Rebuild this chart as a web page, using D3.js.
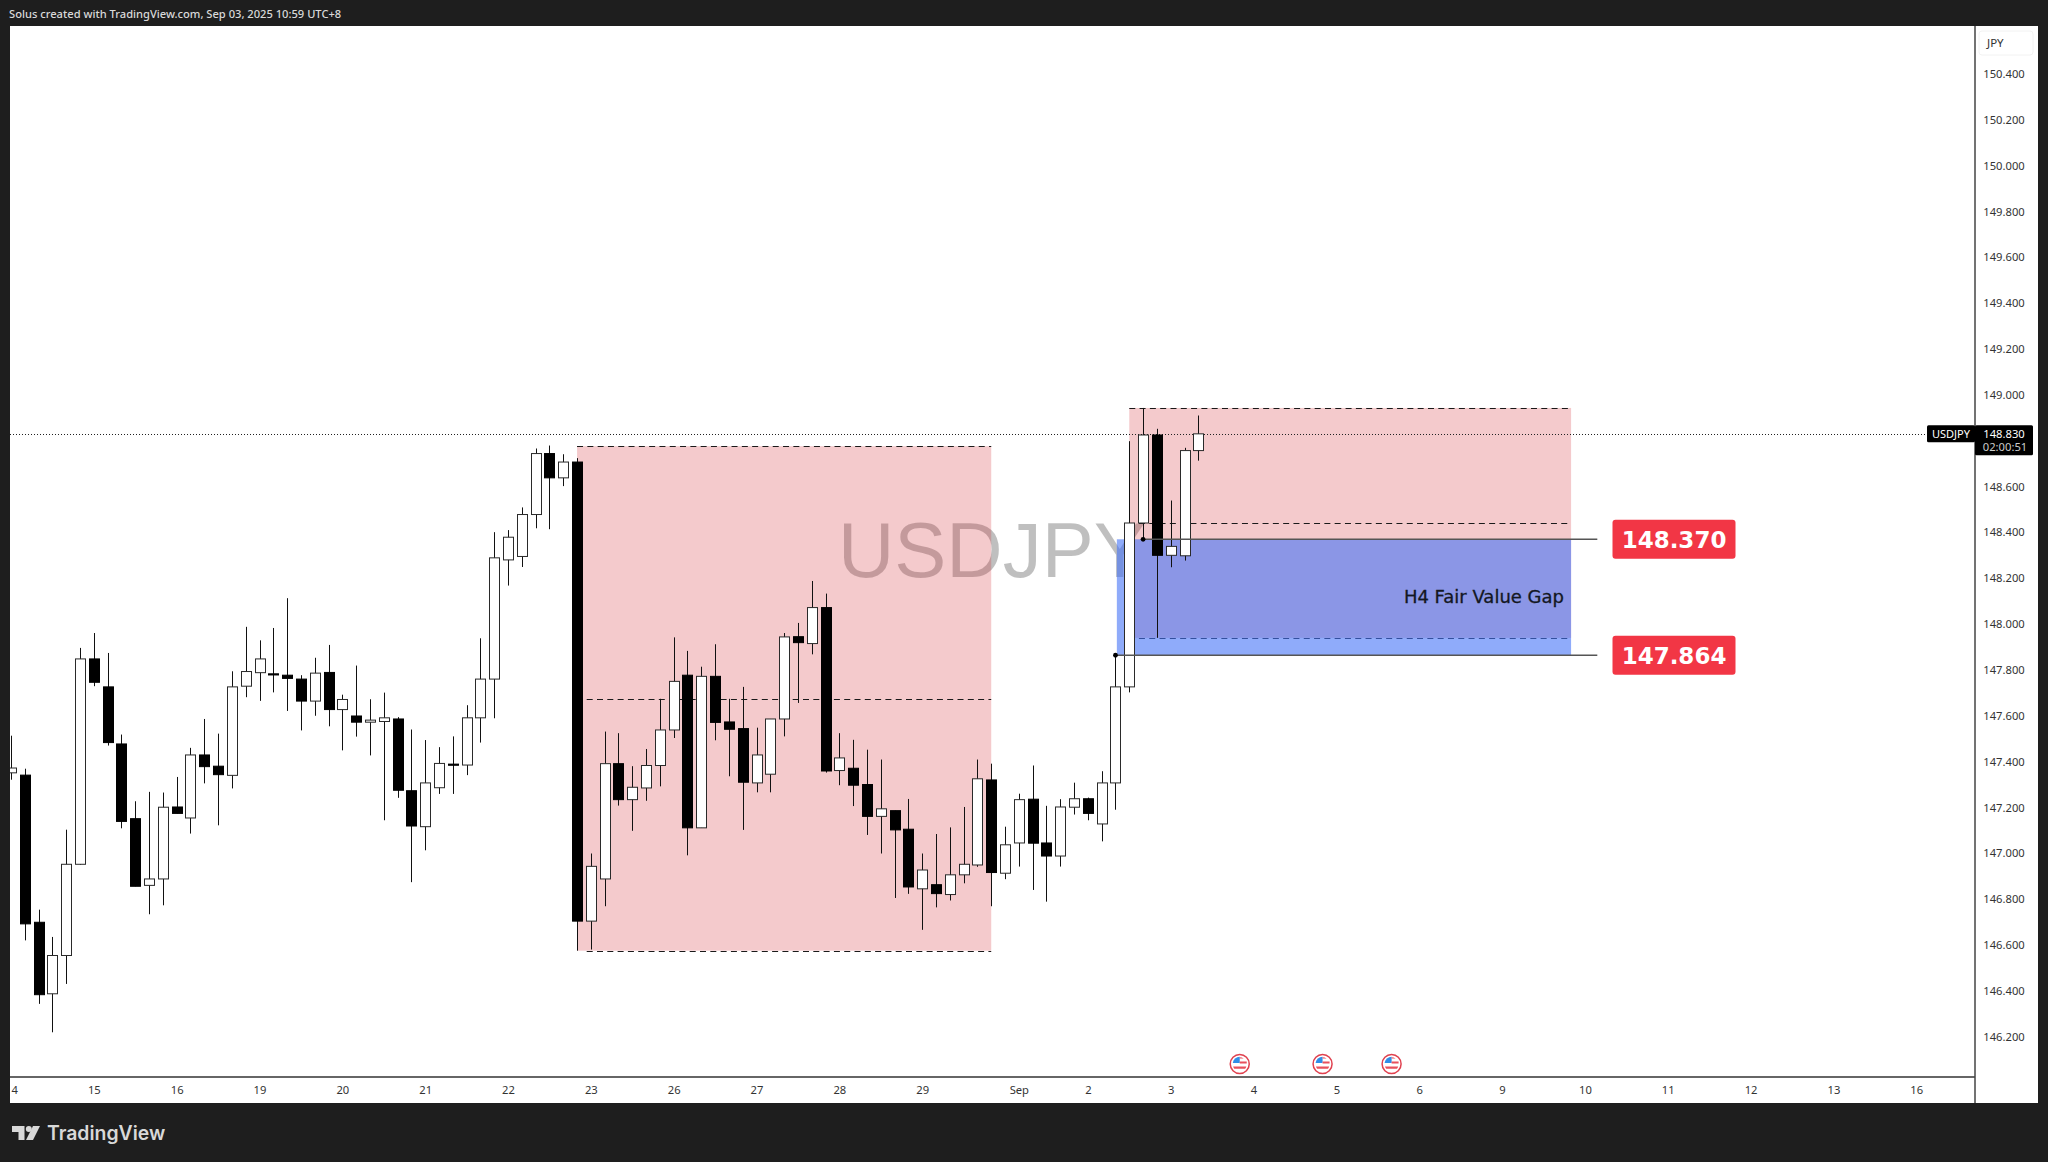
<!DOCTYPE html>
<html>
<head>
<meta charset="utf-8">
<title>USDJPY</title>
<script src="https://cdn.jsdelivr.net/npm/d3@7"></script>
<style>
  html, body { margin: 0; padding: 0; background: #1e1e1e; overflow: hidden; }
  svg { display: block; }
  text { font-family: "Noto Sans", sans-serif; }
</style>
</head>
<body>
<svg id="chart" width="2048" height="1162"></svg>
<script>
// H4 candles
const opens = [147.351,147.341,146.699,146.387,146.554,146.952,147.848,147.726,147.477,147.151,146.860,146.888,147.202,147.154,147.429,147.380,147.340,147.729,147.788,147.783,
  147.777,147.760,147.664,147.789,147.627,147.599,147.572,147.575,147.586,147.273,147.116,147.286,147.389,147.385,147.591,147.760,148.280,148.295,148.478,148.744,
  148.638,148.707,146.704,146.888,147.391,147.234,147.285,147.383,147.538,147.777,147.111,147.772,147.573,147.544,147.307,147.345,147.586,147.945,147.915,148.072,
  147.361,147.371,147.300,147.161,147.186,147.105,146.845,146.863,146.820,146.906,146.949,147.320,146.913,147.045,147.236,147.045,146.988,147.201,147.238,147.128,
  147.307,147.726,148.441,148.825,148.300,148.298,148.757];
const highs = [147.513,147.369,146.754,146.635,147.103,147.896,147.961,147.874,147.518,147.227,147.268,147.265,147.333,147.460,147.586,147.522,147.794,147.988,147.929,147.983,
  148.113,147.777,147.853,147.909,147.692,147.819,147.672,147.701,147.594,147.540,147.494,147.463,147.510,147.646,147.938,148.401,148.410,148.509,148.766,148.779,
  148.741,148.724,146.999,147.531,147.524,147.380,147.455,147.674,147.942,147.883,147.814,147.912,147.674,147.726,147.548,147.586,147.961,148.005,148.188,148.133,
  147.524,147.495,147.452,147.409,147.186,147.237,146.999,147.084,147.113,147.202,147.409,147.391,147.116,147.260,147.383,147.207,147.236,147.308,147.243,147.358,
  147.867,148.798,148.943,148.852,148.539,148.769,148.910];
const lows = [147.321,146.620,146.343,146.219,146.430,146.950,147.729,147.470,147.109,146.856,146.734,146.773,147.174,147.086,147.305,147.122,147.283,147.681,147.665,147.702,
  147.621,147.536,147.600,147.554,147.449,147.509,147.427,147.144,147.242,146.874,147.013,147.259,147.259,147.341,147.483,147.589,148.168,148.249,148.418,148.414,
  148.602,146.575,146.580,146.769,147.208,147.098,147.229,147.292,147.503,146.991,147.111,147.493,147.336,147.102,147.266,147.266,147.510,147.656,147.868,147.352,
  147.297,147.206,147.080,146.999,146.805,146.823,146.666,146.764,146.794,146.869,146.941,146.769,146.887,146.942,146.840,146.789,146.942,147.169,147.144,147.052,
  147.190,147.702,148.373,147.940,148.248,148.277,148.713];
const closes = [147.372,146.692,146.383,146.554,146.952,147.848,147.746,147.483,147.139,146.856,146.888,147.201,147.174,147.429,147.378,147.343,147.726,147.793,147.848,147.778,
  147.763,147.664,147.786,147.627,147.671,147.572,147.581,147.591,147.275,147.119,147.307,147.392,147.384,147.591,147.760,148.289,148.379,148.478,148.744,148.638,
  148.707,146.704,146.943,147.391,147.234,147.288,147.383,147.538,147.750,147.111,147.772,147.571,147.541,147.310,147.429,147.586,147.944,147.919,148.072,147.359,
  147.416,147.297,147.161,147.194,147.102,146.853,146.927,146.824,146.906,146.952,147.325,146.916,147.037,147.234,147.044,146.988,147.202,147.238,147.174,147.307,
  147.726,148.441,148.825,148.300,148.339,148.757,148.830];

// axis labels
const priceTicks = [150.4,150.2,150,149.8,149.6,149.4,149.2,149,148.6,148.4,148.2,148,147.8,147.6,147.4,147.2,147,146.8,146.6,146.4,146.2];
const dayTicks = [0,6,12,18,24,30,36,42,48,54,60,66,73,78,84,90,96,102,108,114,120,126,132,138];
const dayLabels = ["14","15","16","19","20","21","22","23","26","27","28","29","Sep","2","3","4","5","6","9","10","11","12","13","16"];
const eventBars = [89,95,100];

// drawings on the chart, in bars and prices
const lastPrice = 148.830;
const fvgTop = 148.370;
const fvgBottom = 147.864;
const zoneAugStart = 41, zoneAugEnd = 71;
const zoneAugLevels = [148.776,147.675,146.575];
const zoneSepStart = 81, zoneSepEnd = 113;
const zoneSepLevels = [148.943,148.441,147.940];
const fvgStart = 80.1, lineEnd = 114.9;

// layout of the TradingView screenshot
const plot = { left: 10, right: 1975, top: 26, bottom: 1077, frameRight: 2038, frameBottom: 1103 };

const svg = d3.select("#chart");

const x = d3.scaleLinear().domain([0, 138]).range([11, 11 + 138 * 13.806]);
const y = d3.scaleLinear().domain([150.4, 146.2]).range([74, 74 + 4.2 * 229.2]);

// frame
svg.append("rect").attr("width", 2048).attr("height", 1162).attr("fill", "#1e1e1e");
svg.append("rect")
  .attr("x", plot.left).attr("y", plot.top)
  .attr("width", plot.frameRight - plot.left).attr("height", plot.frameBottom - plot.top)
  .attr("fill", "#fff");

svg.append("defs").append("clipPath").attr("id", "plotClip")
  .append("rect")
  .attr("x", plot.left).attr("y", plot.top)
  .attr("width", plot.right - plot.left).attr("height", plot.frameBottom - plot.top);

const pane = svg.append("g").attr("clip-path", "url(#plotClip)");

// watermark sits under everything else
pane.append("text")
  .attr("x", 838).attr("y", 577)
  .style("font-family", '"Liberation Sans", sans-serif')
  .style("font-size", "78px")
  .attr("fill", "#000").attr("fill-opacity", 0.25)
  .text("USDJPY");

const pink = "#d32b33";

function zone(startBar, endBar, levels) {
  pane.append("rect")
    .attr("x", x(startBar)).attr("width", x(endBar) - x(startBar))
    .attr("y", y(levels[0])).attr("height", y(levels[2]) - y(levels[0]))
    .attr("fill", pink).attr("fill-opacity", 0.25);

  pane.selectAll(null)
    .data(levels)
    .join("line")
    .attr("x1", (d, i) => x(i === 0 ? startBar : startBar + 0.7))
    .attr("x2", x(endBar))
    .attr("y1", (d) => Math.round(y(d)) + 0.5)
    .attr("y2", (d) => Math.round(y(d)) + 0.5)
    .attr("stroke", "#1a1a1a")
    .attr("stroke-width", 1)
    .attr("stroke-dasharray", "6 4.3");
}

zone(zoneAugStart, zoneAugEnd, zoneAugLevels);
zone(zoneSepStart, zoneSepEnd, zoneSepLevels);

// FVG box goes over the pink zone
pane.append("rect")
  .attr("x", x(fvgStart)).attr("width", x(zoneSepEnd) - x(fvgStart))
  .attr("y", y(fvgTop)).attr("height", y(fvgBottom) - y(fvgTop))
  .attr("fill", "#4473f7").attr("fill-opacity", 0.6);

// last price line
pane.append("line")
  .attr("x1", plot.left).attr("x2", plot.right)
  .attr("y1", Math.round(y(lastPrice)) + 0.5).attr("y2", Math.round(y(lastPrice)) + 0.5)
  .attr("stroke", "#222").attr("stroke-width", 1).attr("stroke-dasharray", "1 2");

// candles
const candles = d3.range(opens.length).map((i) => ({
  i: i, open: opens[i], high: highs[i], low: lows[i], close: closes[i]
}));

const candle = pane.selectAll("g.candle")
  .data(candles)
  .join("g")
  .attr("class", "candle")
  .attr("transform", (d) => `translate(${Math.round(x(d.i))},0)`);

candle.append("line")
  .attr("x1", 0.5).attr("x2", 0.5)
  .attr("y1", (d) => y(d.high)).attr("y2", (d) => y(d.low))
  .attr("stroke", "#111").attr("stroke-width", 1);

candle.append("rect")
  .attr("x", -4.5).attr("width", 10)
  .attr("y", (d) => y(Math.max(d.open, d.close)))
  .attr("height", (d) => Math.max(1, Math.abs(y(d.open) - y(d.close))))
  .attr("fill", (d) => (d.close >= d.open ? "#fff" : "#000"))
  .attr("stroke", (d) => (d.close >= d.open ? "#2a2a2a" : "#000"))
  .attr("stroke-width", 1);

// FVG edge lines with their anchors
const fvgLines = [
  { price: fvgTop, from: 82 },
  { price: fvgBottom, from: 80 },
];

svg.selectAll("line.fvg")
  .data(fvgLines)
  .join("line")
  .attr("class", "fvg")
  .attr("x1", (d) => x(d.from)).attr("x2", x(lineEnd))
  .attr("y1", (d) => y(d.price)).attr("y2", (d) => y(d.price))
  .attr("stroke", "#555").attr("stroke-width", 1.5);

svg.selectAll("circle.anchor")
  .data(fvgLines)
  .join("circle")
  .attr("class", "anchor")
  .attr("cx", (d) => x(d.from)).attr("cy", (d) => y(d.price))
  .attr("r", 2.4)
  .attr("fill", "#000");

svg.append("text")
  .attr("x", 1564).attr("y", 597)
  .attr("text-anchor", "end").attr("dy", "0.35em")
  .style("font-family", '"DejaVu Sans", sans-serif')
  .style("font-size", "18px")
  .attr("fill", "#131722")
  .attr("stroke", "#131722").attr("stroke-width", 0.3)
  .text("H4 Fair Value Gap");

// red price labels
const priceBadge = svg.selectAll("g.badge")
  .data([fvgTop, fvgBottom])
  .join("g")
  .attr("class", "badge")
  .attr("transform", (d) => `translate(1674,${y(d)})`);

priceBadge.append("rect")
  .attr("x", -61.5).attr("y", -19.5)
  .attr("width", 123).attr("height", 39)
  .attr("rx", 3)
  .attr("fill", "#f23645");

priceBadge.append("text")
  .attr("text-anchor", "middle").attr("dy", "0.37em")
  .style("font-family", '"DejaVu Sans", sans-serif')
  .style("font-size", "23px").style("font-weight", 700)
  .attr("fill", "#fff")
  .text((d) => d3.format(".3f")(d));

// price axis
const yAxis = d3.axisRight(y)
  .tickValues(priceTicks)
  .tickSize(0)
  .tickPadding(0)
  .tickFormat(d3.format(".3f"));

svg.append("g")
  .attr("transform", "translate(2004,0)")
  .call(yAxis)
  .call((g) => g.select(".domain").remove())
  .selectAll("text")
  .attr("text-anchor", "middle")
  .attr("fill", "#333")
  .style("font-family", '"Noto Sans", sans-serif')
  .style("font-size", "11.2px");

// time axis, the first label gets cut off by the left edge
const xAxis = d3.axisBottom(x)
  .tickValues(dayTicks)
  .tickSize(0)
  .tickPadding(0)
  .tickFormat((d, i) => dayLabels[i]);

svg.append("g")
  .attr("clip-path", "url(#plotClip)")
  .append("g")
  .attr("transform", "translate(0,1086)")
  .call(xAxis)
  .call((g) => g.select(".domain").remove())
  .selectAll("text")
  .attr("fill", "#333")
  .style("font-family", '"Noto Sans", sans-serif')
  .style("font-size", "11.2px");

// axis borders
svg.append("line")
  .attr("x1", plot.left).attr("x2", plot.right)
  .attr("y1", plot.bottom).attr("y2", plot.bottom)
  .attr("stroke", "#333").attr("stroke-width", 1.5);
svg.append("line")
  .attr("x1", plot.right).attr("x2", plot.right)
  .attr("y1", plot.top).attr("y2", plot.frameBottom)
  .attr("stroke", "#444").attr("stroke-width", 1.5);

// currency button
svg.append("rect")
  .attr("x", 1979).attr("y", 31).attr("width", 54).attr("height", 24).attr("rx", 3)
  .attr("fill", "#fff").attr("stroke", "#f2f2f2");
svg.append("text")
  .attr("x", 1987).attr("y", 47)
  .attr("fill", "#333")
  .style("font-size", "11.5px")
  .text("JPY");

// symbol and last price tags
const tagY = y(lastPrice);
svg.append("rect")
  .attr("x", 1927).attr("y", tagY - 8.5).attr("width", 48).attr("height", 17)
  .attr("rx", 1.5).attr("fill", "#000");
svg.append("rect")
  .attr("x", 1975).attr("y", tagY - 8.5).attr("width", 58).attr("height", 30)
  .attr("rx", 1.5).attr("fill", "#000");
svg.append("text")
  .attr("x", 1951).attr("y", tagY).attr("dy", "0.36em")
  .attr("text-anchor", "middle").attr("fill", "#fff")
  .style("font-size", "11px")
  .text("USDJPY");
svg.append("text")
  .attr("x", 2004).attr("y", tagY).attr("dy", "0.36em")
  .attr("text-anchor", "middle").attr("fill", "#fff")
  .style("font-size", "11.2px")
  .text(d3.format(".3f")(lastPrice));
svg.append("text")
  .attr("x", 2005).attr("y", tagY + 13.5).attr("dy", "0.36em")
  .attr("text-anchor", "middle").attr("fill", "#ccc")
  .style("font-size", "11.2px")
  .text("02:00:51");

// US event markers
const flag = svg.selectAll("g.event")
  .data(eventBars)
  .join("g")
  .attr("class", "event")
  .attr("transform", (d) => `translate(${x(d)},1064)`);

flag.append("circle").attr("r", 9.5).attr("fill", "#fff").attr("stroke", "#e0414f").attr("stroke-width", 1.5);
flag.append("path").attr("d", "M-7,-1 A7.2,7.2 0 0 1 0,-7.2 V-1 Z").attr("fill", "#2f8ee8");
flag.append("path").attr("d", "M0,-6.8 A7,7 0 0 1 4,-5.5 H0 Z M0,-2.6 H7 V-0.4 H0 Z M-6.6,2.6 H6.6 A7,7 0 0 1 5.4,4.8 H-5.4 A7,7 0 0 1 -6.6,2.6 Z").attr("fill", "#e8505c");

// header and logo
svg.append("text")
  .attr("x", 9).attr("y", 18)
  .attr("fill", "#d9d9d9")
  .style("font-size", "11.15px").style("font-weight", 500)
  .text("Solus created with TradingView.com, Sep 03, 2025 10:59 UTC+8");

const logo = svg.append("g").attr("fill", "#d8d8d8");
logo.append("path").attr("d", "M12,1126 H24.5 V1140 H18.5 V1132 H12 Z");
logo.append("circle").attr("cx", 28.8).attr("cy", 1129).attr("r", 3);
logo.append("path").attr("d", "M33,1126 H40 L33,1140 H26 Z");
svg.append("text")
  .attr("x", 47).attr("y", 1140)
  .attr("fill", "#d8d8d8")
  .style("font-family", "Inter, sans-serif")
  .style("font-size", "19.4px").style("font-weight", 600)
  .text("TradingView");
</script>
</body>
</html>
